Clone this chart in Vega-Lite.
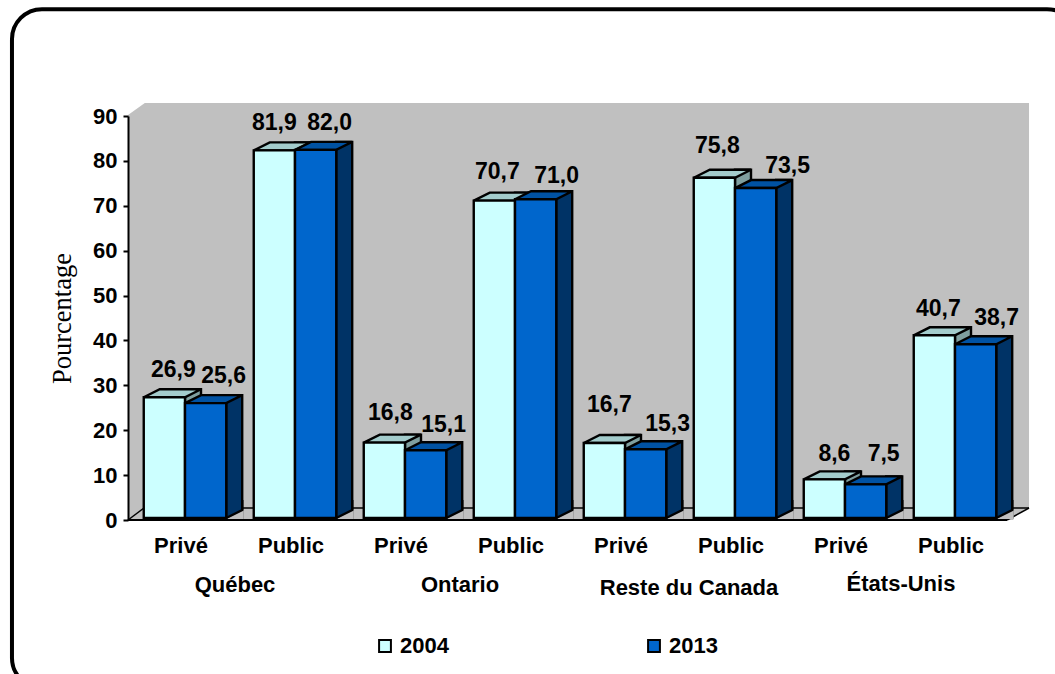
{
  "$schema": "https://vega.github.io/schema/vega-lite/v6.json",
  "width": 880,
  "height": 404,
  "autosize": "none",
  "padding": {"left": 130, "top": 116, "right": 45, "bottom": 154},
  "background": "white",
  "config": {
    "view": {"stroke": null},
    "font": "Liberation Sans",
    "text": {"font": "Liberation Sans", "fontWeight": "bold", "fontSize": 23, "baseline": "middle", "align": "center", "color": "black"}
  },
  "data": {"values": [
    {"groupe": "Privé|Québec", "region": "Québec", "secteur": "Privé", "annee": "2004", "valeur": 26.9},
    {"groupe": "Privé|Québec", "region": "Québec", "secteur": "Privé", "annee": "2013", "valeur": 25.6},
    {"groupe": "Public|Québec", "region": "Québec", "secteur": "Public", "annee": "2004", "valeur": 81.9},
    {"groupe": "Public|Québec", "region": "Québec", "secteur": "Public", "annee": "2013", "valeur": 82.0},
    {"groupe": "Privé|Ontario", "region": "Ontario", "secteur": "Privé", "annee": "2004", "valeur": 16.8},
    {"groupe": "Privé|Ontario", "region": "Ontario", "secteur": "Privé", "annee": "2013", "valeur": 15.1},
    {"groupe": "Public|Ontario", "region": "Ontario", "secteur": "Public", "annee": "2004", "valeur": 70.7},
    {"groupe": "Public|Ontario", "region": "Ontario", "secteur": "Public", "annee": "2013", "valeur": 71.0},
    {"groupe": "Privé|Reste du Canada", "region": "Reste du Canada", "secteur": "Privé", "annee": "2004", "valeur": 16.7},
    {"groupe": "Privé|Reste du Canada", "region": "Reste du Canada", "secteur": "Privé", "annee": "2013", "valeur": 15.3},
    {"groupe": "Public|Reste du Canada", "region": "Reste du Canada", "secteur": "Public", "annee": "2004", "valeur": 75.8},
    {"groupe": "Public|Reste du Canada", "region": "Reste du Canada", "secteur": "Public", "annee": "2013", "valeur": 73.5},
    {"groupe": "Privé|États-Unis", "region": "États-Unis", "secteur": "Privé", "annee": "2004", "valeur": 8.6},
    {"groupe": "Privé|États-Unis", "region": "États-Unis", "secteur": "Privé", "annee": "2013", "valeur": 7.5},
    {"groupe": "Public|États-Unis", "region": "États-Unis", "secteur": "Public", "annee": "2004", "valeur": 40.7},
    {"groupe": "Public|États-Unis", "region": "États-Unis", "secteur": "Public", "annee": "2013", "valeur": 38.7}
  ]},
  "transform": [{"calculate": "replace(format(datum.valeur, '.1f'), '.', ',')", "as": "etiquette"}],
  "resolve": {"scale": {"x": "independent"}, "axis": {"x": "independent", "y": "independent"}},
  "layer": [
    {
      "description": "Rounded outer frame, running past the right and bottom edges; carries the y axis",
      "data": {"values": [{}]},
      "mark": {"type": "rect", "cornerRadius": 30, "fill": "transparent", "stroke": "black", "strokeWidth": 4},
      "encoding": {
        "x": {"datum": -1.073, "type": "quantitative", "scale": {"domain": [0, 8], "nice": false, "zero": false}, "axis": null},
        "x2": {"datum": 8.609},
        "y": {
          "datum": 113.8,
          "type": "quantitative",
          "scale": {"domain": [0, 90], "nice": false},
          "axis": {
            "title": "Pourcentage",
            "titleFont": "Liberation Serif",
            "titleFontWeight": "normal",
            "titleFontSize": 26.5,
            "titleColor": "black",
            "titlePadding": 16,
            "values": [0, 10, 20, 30, 40, 50, 60, 70, 80, 90],
            "grid": false,
            "offset": 2,
            "zindex": 1,
            "domainColor": "black",
            "domainWidth": 2,
            "tickColor": "black",
            "tickWidth": 2,
            "tickSize": 5,
            "labelPadding": 6,
            "labelFont": "Liberation Sans",
            "labelFontWeight": "bold",
            "labelFontSize": 22,
            "labelColor": "black"
          }
        },
        "y2": {"datum": -37.4}
      }
    },
    {
      "description": "Back wall and floor of the 3D box",
      "data": {"values": [{}]},
      "mark": {"type": "rect", "fill": "#C0C0C0"},
      "encoding": {
        "x": {"datum": -0.018, "type": "quantitative", "scale": {"domain": [0, 8], "nice": false, "zero": false}, "axis": null},
        "x2": {"datum": 8.173},
        "y": {"datum": 92.9, "type": "quantitative", "scale": {"domain": [0, 90], "nice": false}, "axis": null},
        "y2": {"datum": 0}
      }
    },
    {
      "description": "White notch at the upper-left corner of the wall",
      "data": {"values": [{}]},
      "mark": {"type": "point", "shape": "M-3,-3 L21,-3 L0,12 L-3,12 Z", "size": 4, "filled": true, "fill": "white", "strokeWidth": 0, "opacity": 1},
      "encoding": {
        "x": {"datum": -0.018, "type": "quantitative", "scale": {"domain": [0, 8], "nice": false, "zero": false}, "axis": null},
        "y": {"datum": 92.9, "type": "quantitative", "scale": {"domain": [0, 90], "nice": false}, "axis": null}
      }
    },
    {
      "description": "White notch at the lower-right corner of the floor",
      "data": {"values": [{}]},
      "mark": {"type": "point", "shape": "M0,0 L-22,12 L-22,15 L3,15 L3,0 Z", "size": 4, "filled": true, "fill": "white", "strokeWidth": 0, "opacity": 1},
      "encoding": {
        "x": {"datum": 8.173, "type": "quantitative", "scale": {"domain": [0, 8], "nice": false, "zero": false}, "axis": null},
        "y": {"datum": 2.67, "type": "quantitative", "scale": {"domain": [0, 90], "nice": false}, "axis": null}
      }
    },
    {
      "description": "Floor back edge",
      "data": {"values": [{}]},
      "mark": {"type": "rule", "stroke": "black", "strokeWidth": 1.5},
      "encoding": {
        "x": {"datum": 0.127, "type": "quantitative", "scale": {"domain": [0, 8], "nice": false, "zero": false}, "axis": null},
        "x2": {"datum": 8.173},
        "y": {"datum": 2.67, "type": "quantitative", "scale": {"domain": [0, 90], "nice": false}, "axis": null}
      }
    },
    {
      "description": "Floor front edge",
      "data": {"values": [{}]},
      "mark": {"type": "rule", "stroke": "black", "strokeWidth": 2},
      "encoding": {
        "x": {"datum": -0.018, "type": "quantitative", "scale": {"domain": [0, 8], "nice": false, "zero": false}, "axis": null},
        "x2": {"datum": 7.973},
        "y": {"datum": 0, "type": "quantitative", "scale": {"domain": [0, 90], "nice": false}, "axis": null}
      }
    },
    {
      "description": "Floor left diagonal",
      "data": {"values": [{}]},
      "mark": {"type": "point", "shape": "M0,0 L16,-12", "size": 4, "filled": false, "stroke": "black", "strokeWidth": 1.5, "opacity": 1},
      "encoding": {
        "x": {"datum": -0.018, "type": "quantitative", "scale": {"domain": [0, 8], "nice": false, "zero": false}, "axis": null},
        "y": {"datum": 0, "type": "quantitative", "scale": {"domain": [0, 90], "nice": false}, "axis": null}
      }
    },
    {
      "description": "Floor right diagonal",
      "data": {"values": [{}]},
      "mark": {"type": "point", "shape": "M0,0 L-22,12", "size": 4, "filled": false, "stroke": "black", "strokeWidth": 1.5, "opacity": 1},
      "encoding": {
        "x": {"datum": 8.173, "type": "quantitative", "scale": {"domain": [0, 8], "nice": false, "zero": false}, "axis": null},
        "y": {"datum": 2.67, "type": "quantitative", "scale": {"domain": [0, 90], "nice": false}, "axis": null}
      }
    },
    {
      "description": "Bars with side and top faces, then their labels",
      "encoding": {
        "x": {
          "field": "groupe",
          "type": "nominal",
          "scale": {
            "domain": ["Privé|Québec", "Public|Québec", "Privé|Ontario", "Public|Ontario", "Privé|Reste du Canada", "Public|Reste du Canada", "Privé|États-Unis", "Public|États-Unis"],
            "paddingInner": 0.25,
            "paddingOuter": 0.125
          },
          "axis": {
            "title": null,
            "domain": false,
            "ticks": false,
            "zindex": 1,
            "labelAngle": 0,
            "labelPadding": 15,
            "labelOffset": -4,
            "labelFont": "Liberation Sans",
            "labelFontWeight": "bold",
            "labelFontSize": 22,
            "labelColor": "black",
            "labelExpr": "split(datum.label, '|')[0]"
          }
        },
        "xOffset": {"field": "annee", "type": "nominal", "scale": {"domain": ["2004", "2013"], "paddingInner": 0, "paddingOuter": 0}},
        "y": {"field": "valeur", "type": "quantitative", "scale": {"domain": [0, 90], "nice": false}, "axis": null}
      },
      "layer": [
        {
          "transform": [{"filter": "datum.annee === '2004'"}],
          "mark": {"type": "bar", "width": 16, "xOffset": 8, "yOffset": -10, "y2Offset": -2, "fill": "#7F9F9F", "stroke": "black", "strokeWidth": 2.4},
          "encoding": {"xOffset": null, "y2": {"datum": 0}}
        },
        {
          "transform": [{"filter": "datum.annee === '2013'"}],
          "mark": {"type": "bar", "width": 16, "xOffset": 49.2, "yOffset": -10, "y2Offset": -2, "fill": "#003366", "stroke": "black", "strokeWidth": 2.4},
          "encoding": {"xOffset": null, "y2": {"datum": 0}}
        },
        {
          "transform": [{"filter": "datum.annee === '2013'"}],
          "mark": {"type": "point", "shape": "M20.6,-1 L38,-1 L38,-10 L36.6,-10 Z", "size": 4, "filled": true, "fill": "#C0C0C0", "strokeWidth": 0, "opacity": 1},
          "encoding": {"y": {"datum": 0, "axis": null}}
        },
        {
          "transform": [{"filter": "datum.annee === '2013'"}],
          "mark": {"type": "point", "shape": "M20.6,-2 L36.6,-10 L36.6,-20", "size": 4, "filled": false, "stroke": "black", "strokeWidth": 2.4, "opacity": 1},
          "encoding": {"y": {"datum": 0, "axis": null}}
        },
        {
          "mark": {"type": "point", "shape": "M-20.6,-2 L20.6,-2 L36.6,-10 L-4.6,-10 Z", "size": 4, "filled": true, "stroke": "black", "strokeWidth": 2.4, "opacity": 1},
          "encoding": {
            "fill": {"condition": {"test": "datum.annee === '2004'", "value": "#A3CCCC"}, "value": "#0052A3"}
          }
        },
        {
          "mark": {"type": "bar", "yOffset": -2, "y2Offset": -2, "stroke": "black", "strokeWidth": 2.4},
          "encoding": {
            "y2": {"datum": 0},
            "fill": {
              "field": "annee",
              "type": "nominal",
              "scale": {"domain": ["2004", "2013"], "range": ["#CCFFFF", "#0066CC"]},
              "legend": {
                "orient": "none",
                "legendX": 244,
                "legendY": 519,
                "direction": "horizontal",
                "columns": 2,
                "columnPadding": 194,
                "title": null,
                "symbolType": "square",
                "symbolSize": 140,
                "symbolStrokeColor": "black",
                "symbolStrokeWidth": 2,
                "labelOffset": 4,
                "labelFont": "Liberation Sans",
                "labelFontWeight": "bold",
                "labelFontSize": 22,
                "labelColor": "black"
              }
            }
          }
        },
        {"transform": [{"filter": "datum.valeur === 26.9"}], "mark": {"type": "text", "dx": 9, "dy": -29}, "encoding": {"text": {"field": "etiquette"}}},
        {"transform": [{"filter": "datum.valeur === 25.6"}], "mark": {"type": "text", "dx": 18, "dy": -29}, "encoding": {"text": {"field": "etiquette"}}},
        {"transform": [{"filter": "datum.valeur === 81.9"}], "mark": {"type": "text", "dx": 0, "dy": -29}, "encoding": {"text": {"field": "etiquette"}}},
        {"transform": [{"filter": "datum.valeur === 82"}], "mark": {"type": "text", "dx": 14, "dy": -29}, "encoding": {"text": {"field": "etiquette"}}},
        {"transform": [{"filter": "datum.valeur === 16.8"}], "mark": {"type": "text", "dx": 6, "dy": -32}, "encoding": {"text": {"field": "etiquette"}}},
        {"transform": [{"filter": "datum.valeur === 15.1"}], "mark": {"type": "text", "dx": 18, "dy": -27}, "encoding": {"text": {"field": "etiquette"}}},
        {"transform": [{"filter": "datum.valeur === 70.7"}], "mark": {"type": "text", "dx": 3, "dy": -31}, "encoding": {"text": {"field": "etiquette"}}},
        {"transform": [{"filter": "datum.valeur === 71"}], "mark": {"type": "text", "dx": 21, "dy": -25}, "encoding": {"text": {"field": "etiquette"}}},
        {"transform": [{"filter": "datum.valeur === 16.7"}], "mark": {"type": "text", "dx": 5, "dy": -40}, "encoding": {"text": {"field": "etiquette"}}},
        {"transform": [{"filter": "datum.valeur === 15.3"}], "mark": {"type": "text", "dx": 22, "dy": -27}, "encoding": {"text": {"field": "etiquette"}}},
        {"transform": [{"filter": "datum.valeur === 75.8"}], "mark": {"type": "text", "dx": 3, "dy": -34}, "encoding": {"text": {"field": "etiquette"}}},
        {"transform": [{"filter": "datum.valeur === 73.5"}], "mark": {"type": "text", "dx": 32, "dy": -24}, "encoding": {"text": {"field": "etiquette"}}},
        {"transform": [{"filter": "datum.valeur === 8.6"}], "mark": {"type": "text", "dx": 10, "dy": -27}, "encoding": {"text": {"field": "etiquette"}}},
        {"transform": [{"filter": "datum.valeur === 7.5"}], "mark": {"type": "text", "dx": 18, "dy": -32}, "encoding": {"text": {"field": "etiquette"}}},
        {"transform": [{"filter": "datum.valeur === 40.7"}], "mark": {"type": "text", "dx": 4, "dy": -28}, "encoding": {"text": {"field": "etiquette"}}},
        {"transform": [{"filter": "datum.valeur === 38.7"}], "mark": {"type": "text", "dx": 21, "dy": -28}, "encoding": {"text": {"field": "etiquette"}}},
        {"transform": [{"filter": "datum.annee === '2004' && datum.groupe === 'Privé|Québec'"}], "mark": {"type": "text", "fontSize": 22, "dx": 50, "dy": 65}, "encoding": {"xOffset": null, "y": {"datum": 0, "axis": null}, "text": {"field": "region"}}},
        {"transform": [{"filter": "datum.annee === '2004' && datum.groupe === 'Privé|Ontario'"}], "mark": {"type": "text", "fontSize": 22, "dx": 55, "dy": 65}, "encoding": {"xOffset": null, "y": {"datum": 0, "axis": null}, "text": {"field": "region"}}},
        {"transform": [{"filter": "datum.annee === '2004' && datum.groupe === 'Privé|Reste du Canada'"}], "mark": {"type": "text", "fontSize": 22, "dx": 64, "dy": 68}, "encoding": {"xOffset": null, "y": {"datum": 0, "axis": null}, "text": {"field": "region"}}},
        {"transform": [{"filter": "datum.annee === '2004' && datum.groupe === 'Privé|États-Unis'"}], "mark": {"type": "text", "fontSize": 22, "dx": 56, "dy": 64}, "encoding": {"xOffset": null, "y": {"datum": 0, "axis": null}, "text": {"field": "region"}}}
      ]
    }
  ]
}
